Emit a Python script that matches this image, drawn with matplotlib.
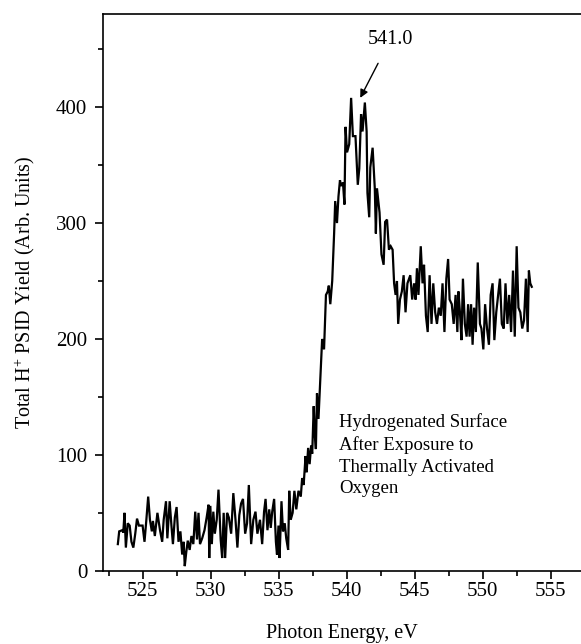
import matplotlib
matplotlib.use("Agg")
import matplotlib.pyplot as plt
from matplotlib.ticker import MultipleLocator

energy = [523.18, 523.28, 523.50, 523.58, 523.67, 523.77, 523.91, 524.05, 524.18, 524.32,
          524.46, 524.59, 524.73, 525.00, 525.14, 525.27, 525.41, 525.54, 525.68, 525.76,
          525.90, 526.09, 526.28, 526.44, 526.55, 526.72, 526.82, 526.99, 527.12, 527.23,
          527.37, 527.50, 527.64, 527.78, 527.91, 528.02, 528.10, 528.21, 528.32, 528.46,
          528.59, 528.73, 528.87, 529.00, 529.11, 529.22, 529.38, 529.55, 529.71, 529.85,
          529.90, 529.98, 530.09, 530.20, 530.31, 530.45, 530.58, 530.74, 530.85, 530.96,
          531.07, 531.21, 531.34, 531.51, 531.67, 531.83, 531.97, 532.11, 532.24, 532.38,
          532.54, 532.68, 532.81, 532.98, 533.14, 533.30, 533.44, 533.63, 533.79, 533.93,
          534.04, 534.18, 534.31, 534.42, 534.53, 534.67, 534.80, 534.88, 534.99, 535.07,
          535.21, 535.32, 535.45, 535.56, 535.70, 535.78, 535.89, 536.03, 536.16, 536.30,
          536.46, 536.63, 536.73, 536.84, 536.98, 537.06, 537.17, 537.28, 537.39, 537.47,
          537.58, 537.66, 537.74, 537.82, 537.93, 538.10, 538.20, 538.34, 538.48, 538.61,
          538.69, 538.80, 538.94, 539.08, 539.16, 539.29, 539.40, 539.51, 539.59, 539.73,
          539.84, 539.92, 540.03, 540.19, 540.33, 540.46, 540.65, 540.82, 540.93, 541.06,
          541.17, 541.34, 541.47, 541.53, 541.66, 541.74, 541.91, 542.07, 542.15, 542.23,
          542.42, 542.56, 542.72, 542.83, 542.97, 543.11, 543.24, 543.38, 543.49, 543.60,
          543.70, 543.79, 543.92, 544.06, 544.19, 544.33, 544.47, 544.68, 544.82, 544.96,
          545.07, 545.17, 545.28, 545.45, 545.58, 545.69, 545.83, 545.96, 546.10, 546.24,
          546.37, 546.51, 546.64, 546.78, 546.92, 547.05, 547.19, 547.33, 547.46, 547.57,
          547.73, 547.87, 548.01, 548.14, 548.22, 548.33, 548.44, 548.55, 548.69, 548.82,
          548.93, 549.04, 549.15, 549.26, 549.37, 549.50, 549.64, 549.80, 549.91, 550.05,
          550.18, 550.32, 550.46, 550.59, 550.73, 550.86, 551.00, 551.14, 551.27, 551.41,
          551.55, 551.68, 551.82, 551.95, 552.09, 552.23, 552.36, 552.50, 552.63, 552.77,
          552.91, 553.04, 553.18, 553.31, 553.40, 553.50, 553.61]

yield_h = [23, 34, 35, 33, 50, 20, 41, 39, 25, 20,
           32, 45, 39, 39, 25, 43, 64, 44, 34, 43,
           30, 50, 35, 25, 44, 60, 28, 60, 39, 23,
           46, 55, 25, 34, 14, 25, 4, 16, 26, 18,
           30, 23, 51, 27, 50, 23, 28, 35, 46, 57,
           11, 56, 23, 51, 32, 44, 70, 27, 11, 50,
           11, 50, 46, 32, 67, 44, 20, 48, 58, 62,
           32, 41, 74, 23, 44, 51, 32, 44, 23, 51,
           62, 35, 53, 37, 51, 62, 25, 14, 39, 11,
           60, 34, 41, 28, 18, 69, 44, 50, 69, 53,
           69, 64, 80, 74, 99, 85, 106, 92, 108, 101,
           142, 117, 105, 153, 131, 175, 200, 191, 238, 241,
           246, 230, 250, 291, 319, 300, 323, 337, 332, 335,
           316, 383, 361, 368, 408, 375, 375, 333, 347, 394,
           379, 404, 379, 326, 305, 348, 365, 330, 291, 330,
           309, 273, 264, 301, 303, 277, 280, 277, 248, 238,
           250, 213, 234, 241, 255, 223, 248, 255, 234, 248,
           234, 261, 238, 280, 248, 264, 220, 206, 255, 213,
           248, 223, 213, 227, 220, 248, 206, 252, 269, 234,
           230, 213, 238, 206, 241, 223, 199, 252, 213, 202,
           230, 202, 230, 195, 227, 206, 266, 213, 209, 191,
           230, 209, 195, 238, 248, 199, 223, 238, 252, 213,
           209, 248, 213, 238, 206, 259, 202, 280, 227, 223,
           209, 216, 252, 206, 259, 248, 245]

x_ticks = [525, 530, 535, 540, 545, 550, 555]
y_ticks = [0, 100, 200, 300, 400]
peak_label = "541.0"
peak_x = 541.0
peak_y = 408
note = "Hydrogenated Surface\nAfter Exposure to\nThermally Activated\nOxygen"

plt.rcParams['font.family'] = ['Liberation Serif', 'DejaVu Serif']
plt.rcParams['mathtext.fontset'] = 'custom'
plt.rcParams['mathtext.rm'] = 'Liberation Serif'
plt.rcParams['mathtext.it'] = 'Liberation Serif:italic'

fig = plt.figure(figsize=(5.81, 6.44), dpi=100)
ax = fig.add_axes([0.1766, 0.1137, 0.8234, 0.8639])

ax.plot(energy, yield_h, color='black', lw=1.6, solid_joinstyle='miter')

ax.set_xlim(522.06, 557.23)
ax.set_ylim(0, 480)
ax.set_xticks(x_ticks)
ax.set_yticks(y_ticks)
ax.xaxis.set_minor_locator(MultipleLocator(2.5))
ax.yaxis.set_minor_locator(MultipleLocator(50))
ax.tick_params(which='major', direction='out', length=6, width=1.2, labelsize=15)
ax.tick_params(which='minor', direction='out', length=3.5, width=1.2)
ax.tick_params(axis='x', which='major', pad=2)
ax.tick_params(axis='y', which='major', pad=5)
ax.spines['right'].set_visible(False)
for s in ['left', 'bottom', 'top']:
    ax.spines[s].set_linewidth(1.2)

ax.set_xlabel("Photon Energy, eV", fontsize=14.5, labelpad=17)
ax.set_ylabel("Total H$^{+}$ PSID Yield (Arb. Units)", fontsize=14.5, labelpad=14)

ax.text(539.43, 136, note, fontsize=13.5, ha='left', va='top', linespacing=1.36)

ax.annotate(peak_label, xy=(peak_x, peak_y), xytext=(543.2, 458),
            fontsize=14.5, ha='center', va='center',
            arrowprops=dict(arrowstyle='-|>', color='black', lw=1.0,
                            mutation_scale=12, shrinkA=9, shrinkB=0))

fig.savefig("out.png", dpi=100)
